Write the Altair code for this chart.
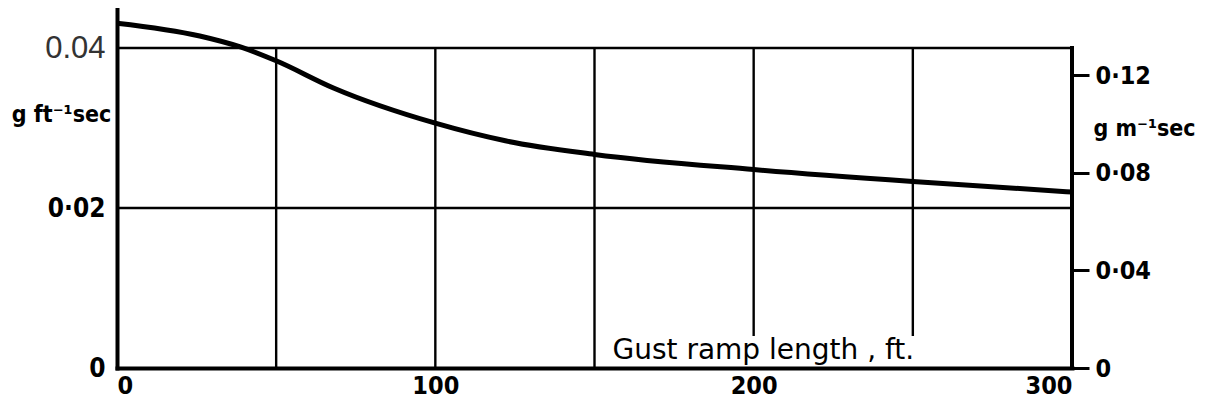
import altair as alt
import pandas as pd

# curve: gust ramp length (ft) vs value (g ft^-1 sec)
ramp_ft = [0, 26, 39, 50, 68, 100, 122, 150, 200, 250, 300]
value_ft = [0.0431, 0.0415, 0.0401, 0.0384, 0.0350, 0.0306, 0.0284, 0.0267, 0.0248, 0.0233, 0.0220]

x_ticks = [0, 100, 200, 300]
left_ticks = [0, 0.02, 0.04]
right_ticks = [0, 0.04, 0.08, 0.12]

grid_x = [50, 100, 150, 200, 250]
grid_x_bottom = [0, 0, 0, 0.004, 0.004]
grid_y = [0.02, 0.04]

FT_PER_M = 3.2808
Y_MAX = 0.045

NARROW = "DejaVu Sans Condensed"

curve_df = pd.DataFrame({"ramp": ramp_ft, "val": value_ft})
vgrid_df = pd.DataFrame({"gx": grid_x, "gy0": grid_x_bottom, "gy1": [0.04] * len(grid_x)})
hgrid_df = pd.DataFrame({"hy": grid_y, "hx0": [0] * len(grid_y), "hx1": [300] * len(grid_y)})
frame_df = pd.DataFrame({"fx": [300], "fy0": [0], "fy1": [0.04]})
right_df = pd.DataFrame({"rv": right_ticks})

xscale = alt.Scale(domain=[0, 300], nice=False, zero=False)
yscale = alt.Scale(domain=[0, Y_MAX], nice=False)

x_axis = alt.Axis(
    values=x_ticks, grid=False, tickSize=0, labelPadding=5,
    domainWidth=4, domainColor="black", domainCap="square",
    labelFont=NARROW, labelFontWeight="bold", labelFontSize=25, labelColor="black",
    title="Gust ramp length , ft.", titleFont="DejaVu Sans", titleFontWeight="normal",
    titleFontSize=28, titleColor="black", titleAlign="left", titleBaseline="bottom",
    titleAnchor="start", titleX=495, titleY=-4,
)

left_axis = alt.Axis(
    values=left_ticks, grid=False, tickSize=0, labelPadding=12,
    domainWidth=4, domainColor="black", domainCap="square",
    labelExpr="abs(datum.value-0.04)<1e-6 ? format(datum.value,'.2f') : (datum.value==0 ? '0' : replace(format(datum.value,'.2f'),'.','·'))",
    labelFont={"condition": {"test": "abs(datum.value-0.04)<1e-6", "value": "Liberation Sans"}, "value": NARROW},
    labelFontWeight={"condition": {"test": "abs(datum.value-0.04)<1e-6", "value": "normal"}, "value": "bold"},
    labelFontSize={"condition": {"test": "abs(datum.value-0.04)<1e-6", "value": 31}, "value": 26},
    labelColor={"condition": {"test": "abs(datum.value-0.04)<1e-6", "value": "#333333"}, "value": "black"},
    title="g ft⁻¹sec", titleAngle=0, titleFont=NARROW, titleFontWeight="bold",
    titleFontSize=23, titleColor="black", titleAlign="center", titleBaseline="middle",
    titleX=-56, titleY=106,
)

right_axis = alt.Axis(
    values=right_ticks, grid=False, domain=False, orient="right",
    tickSize=17, tickWidth=3, tickColor="black", labelPadding=6,
    labelExpr="datum.value==0 ? '0' : replace(format(datum.value,'.2f'),'.','·')",
    labelFont=NARROW, labelFontWeight="bold", labelFontSize=25, labelColor="black",
    title="g m⁻¹sec", titleAngle=0, titleFont=NARROW, titleFontWeight="bold",
    titleFontSize=23, titleColor="black", titleAlign="center", titleBaseline="middle",
    titleX=72, titleY=120,
)

curve = alt.Chart(curve_df).mark_line(color="black", strokeWidth=5, interpolate="monotone").encode(
    x=alt.X("ramp:Q", scale=xscale, axis=x_axis),
    y=alt.Y("val:Q", scale=yscale, axis=left_axis),
)

vgrid = alt.Chart(vgrid_df).mark_rule(color="black", strokeWidth=2.4).encode(
    x=alt.X("gx:Q", scale=xscale),
    y=alt.Y("gy0:Q", scale=yscale),
    y2="gy1:Q",
)

hgrid = alt.Chart(hgrid_df).mark_rule(color="black", strokeWidth=2.4).encode(
    x=alt.X("hx0:Q", scale=xscale),
    x2="hx1:Q",
    y=alt.Y("hy:Q", scale=yscale),
)

frame = alt.Chart(frame_df).mark_rule(color="black", strokeWidth=4, strokeCap="square").encode(
    x=alt.X("fx:Q", scale=xscale),
    y=alt.Y("fy0:Q", scale=yscale),
    y2="fy1:Q",
)

left_layer = alt.layer(vgrid, hgrid, frame, curve)

right_layer = alt.Chart(right_df).mark_point(opacity=0).encode(
    x=alt.value(0),
    y=alt.Y("rv:Q", scale=alt.Scale(domain=[0, Y_MAX * FT_PER_M], nice=False), axis=right_axis),
)

chart = alt.layer(left_layer, right_layer).resolve_scale(y="independent").properties(
    width=955, height=360,
    autosize=alt.AutoSizeParams(type="none"),
    padding={"left": 109, "top": 0, "right": 125, "bottom": 34},
    view=alt.ViewBackground(stroke="transparent", strokeWidth=0),
).configure_view(stroke="transparent", strokeWidth=0).configure(background="white")

chart.save("out.html", embed_options={"renderer": "svg", "actions": False})
